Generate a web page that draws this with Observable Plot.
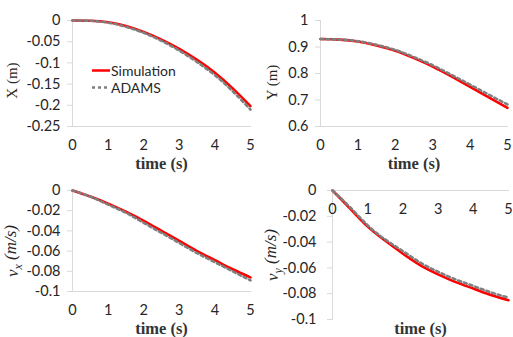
<!DOCTYPE html>
<html>
<head>
<meta charset="utf-8">
<script src="https://cdn.jsdelivr.net/npm/d3@7"></script>
<script src="https://cdn.jsdelivr.net/npm/@observablehq/plot@0.6"></script>
<style>
  body { margin: 0; background: #fff; }
  #wrap { position: relative; width: 513px; height: 337px; overflow: hidden; background: #fff; }
  .panel { position: absolute; }
  #legend { position: absolute; left: 92px; top: 62px; font-family: Lato, sans-serif; font-size: 14px; color: #262626; line-height: 17px; }
  #legend div { display: flex; align-items: center; }
  #legend svg { margin-right: 1px; }
</style>
</head>
<body>
<div id="wrap"></div>
<script>
// ---- data ----
const time = [0, 0.5, 1, 1.5, 2, 2.5, 3, 3.5, 4, 4.5, 5];
const simX  = [0, -0.0005, -0.004, -0.013, -0.027, -0.045, -0.067, -0.093, -0.123, -0.160, -0.202];
const adamsX = [0, -0.0007, -0.005, -0.015, -0.029, -0.048, -0.071, -0.098, -0.129, -0.167, -0.210];
const simY  = [0.930, 0.928, 0.921, 0.906, 0.886, 0.858, 0.826, 0.789, 0.750, 0.710, 0.670];
const adamsY = [0.930, 0.928, 0.922, 0.908, 0.889, 0.862, 0.831, 0.795, 0.758, 0.720, 0.683];
const simVx  = [0, -0.006, -0.013, -0.021, -0.030, -0.040, -0.050, -0.060, -0.069, -0.078, -0.086];
const adamsVx = [0, -0.006, -0.014, -0.022, -0.032, -0.042, -0.052, -0.062, -0.071, -0.080, -0.089];
const simVy  = [0, -0.014, -0.028, -0.039, -0.049, -0.058, -0.065, -0.071, -0.076, -0.081, -0.085];
const adamsVy = [0, -0.013, -0.027, -0.038, -0.047, -0.056, -0.063, -0.069, -0.074, -0.079, -0.083];

const xTicks = [0, 1, 2, 3, 4, 5];
const ticksX = [0, -0.05, -0.1, -0.15, -0.2, -0.25];
const ticksY = [0.6, 0.7, 0.8, 0.9, 1];
const ticksVx = [0, -0.02, -0.04, -0.06, -0.08, -0.1];
const ticksVy = [0, -0.02, -0.04, -0.06, -0.08, -0.1];
const seriesNames = ["Simulation", "ADAMS"];

const RED = "#ff0000", GRAY = "#7f7f7f", AXIS = "#d9d9d9", TXT = "#262626";
const fmt = d => String(+d.toFixed(3));
const SERIF = "'Liberation Serif', serif";

function rows(sim, adams) {
  return { sim: time.map((t, i) => ({t, v: sim[i]})), adams: time.map((t, i) => ({t, v: adams[i]})) };
}

function panel({left, top, width, height, mt, mr, mb, ml, domain, yTicks, sim, adams, ylabel, xAxisTop, ylabelDx, ylabelDy}) {
  const d = rows(sim, adams);
  const isV = ylabel.startsWith("v");
  const marks = [
    Plot.frame({anchor: "left", stroke: AXIS}),
    Plot.frame({anchor: xAxisTop ? "top" : "bottom", stroke: AXIS}),
    Plot.axisY({ticks: yTicks, tickSize: 5, tickPadding: xAxisTop ? 11 : 7, tickFormat: fmt, stroke: AXIS, fill: TXT, label: null}),
  ];
  if (xAxisTop) {
    marks.push(Plot.text(xTicks, {x: d => d, y: domain[1], dy: 19, text: d => fmt(d), fill: TXT}));
  } else {
    marks.push(Plot.axisX({ticks: xTicks, tickSize: 0, tickPadding: 13, tickFormat: fmt, fill: TXT, label: null}));
  }
  marks.push(
    Plot.text(["time (s)"], {frameAnchor: "bottom", lineAnchor: "middle", textAnchor: "middle", dy: xAxisTop ? 9 : 37, fill: "#333"}),
    Plot.text([ylabel], {frameAnchor: "left", lineAnchor: "middle", textAnchor: "middle", rotate: -90, dx: ylabelDx, dy: ylabelDy, fill: TXT}),
    Plot.line(d.sim, {x: "t", y: "v", stroke: RED, strokeWidth: 2.6, curve: "natural"}),
    Plot.line(d.adams, {x: "t", y: "v", stroke: GRAY, strokeWidth: 2.6, strokeDasharray: "3,3", curve: "natural"})
  );
  const chart = Plot.plot({
    width, height, marginTop: mt, marginRight: mr, marginBottom: mb, marginLeft: ml,
    x: {domain: [0, 5], axis: xAxisTop ? null : undefined},
    y: {domain: domain},
    style: {fontFamily: "Lato, sans-serif", fontSize: "14.5px", background: "transparent", overflow: "visible"},
    marks
  });
  chart.classList.add("panel");
  chart.style.left = left + "px";
  chart.style.top = top + "px";
  const texts = d3.select(chart).selectAll("text");
  texts.filter(function() { return this.textContent === "time (s)"; })
    .style("font-family", SERIF).style("font-size", "16.5px").style("font-weight", "bold");
  texts.filter(function() { return this.textContent === ylabel; })
    .style("font-family", SERIF).style("font-size", isV ? "17px" : "15px")
    .style("font-style", isV ? "italic" : "normal")
    .each(function() {
      if (!isV) return;
      const sel = d3.select(this);
      sel.selectAll("*").remove();
      sel.text(null);
      sel.append("tspan").text("v");
      sel.append("tspan").style("font-size", "12px").attr("dy", "0.3em").text(ylabel.slice(1, 2));
      sel.append("tspan").attr("dy", "-0.3em").text(" (m/s)");
    });
  document.getElementById("wrap").appendChild(chart);
}

panel({left: 0, top: 0, width: 256, height: 170, mt: 20, mr: 6, mb: 44, ml: 72,
  domain: [-0.25, 0], yTicks: ticksX, sim: simX, adams: adamsX, ylabel: "X (m)", ylabelDx: -60, ylabelDy: 7});
panel({left: 256, top: 0, width: 257, height: 170, mt: 20, mr: 6, mb: 44, ml: 64,
  domain: [0.6, 1], yTicks: ticksY, sim: simY, adams: adamsY, ylabel: "Y (m)", ylabelDx: -48, ylabelDy: 9});
panel({left: 0, top: 170, width: 256, height: 167, mt: 20, mr: 6, mb: 46, ml: 72,
  domain: [-0.1, 0], yTicks: ticksVx, sim: simVx, adams: adamsVx, ylabel: "vx (m/s)", ylabelDx: -60, ylabelDy: 10});
panel({left: 256, top: 170, width: 257, height: 167, mt: 20, mr: 5, mb: 18, ml: 76,
  domain: [-0.1, 0], yTicks: ticksVy, sim: simVy, adams: adamsVy, ylabel: "vy (m/s)", ylabelDx: -60, ylabelDy: 0, xAxisTop: true});

// legend
const legend = d3.select("#wrap").append("div").attr("id", "legend");
seriesNames.forEach((name, i) => {
  const row = legend.append("div");
  const s = row.append("svg").attr("width", 18).attr("height", 17);
  s.append("line").attr("x1", 0).attr("x2", 18).attr("y1", 8.5).attr("y2", 8.5)
    .attr("stroke", i === 0 ? RED : GRAY).attr("stroke-width", 2.5)
    .attr("stroke-dasharray", i === 0 ? null : "3,3");
  row.append("span").text(name);
});
</script>
</body>
</html>
